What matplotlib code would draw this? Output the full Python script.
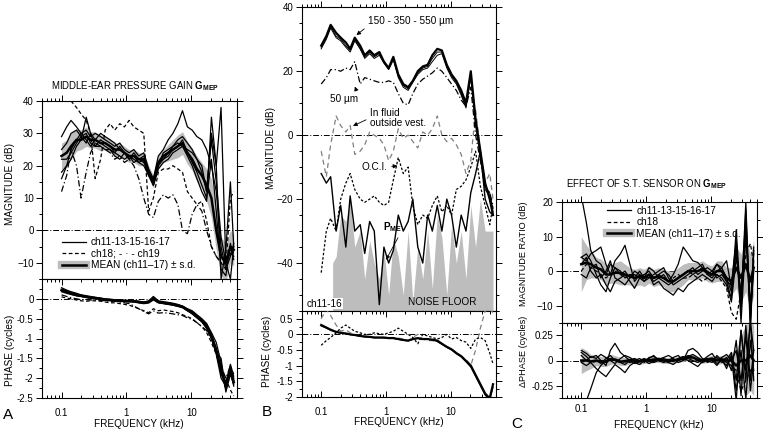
import numpy as np
import matplotlib
matplotlib.use("Agg")
import matplotlib.pyplot as plt
from matplotlib.lines import Line2D
from matplotlib.ticker import LogLocator, NullFormatter, MultipleLocator, FixedLocator, FixedFormatter

plt.rcParams['font.family'] = ['Liberation Sans', 'DejaVu Sans']
plt.rcParams['mathtext.fontset'] = 'custom'
plt.rcParams['mathtext.rm'] = 'Liberation Sans'
plt.rcParams['mathtext.bf'] = 'Liberation Sans:bold'

# ---------------- data ----------------
FREQ = [0.10, 0.12, 0.14, 0.17, 0.20, 0.24, 0.28, 0.33, 0.40, 0.47, 0.56, 0.66, 0.79, 0.93,
        1.1, 1.3, 1.55, 1.85, 2.2, 2.6, 3.1, 3.7, 4.4, 5.2, 6.2, 7.3, 8.7, 10.3, 12.2, 14.5,
        17.2, 20.4, 24.2, 28.7, 34.0, 40.0, 45.0]

# Panel A magnitude (dB)
A_MEAN = [23, 24, 26, 28, 28, 29, 28, 28, 27, 27, 26, 25, 25, 24, 23, 23, 22, 22, 18, 15,
          21, 23, 24, 25, 26, 27, 24, 22, 19, 17, 14, 10, 0, -8, -10, -5, -6]
A_SD = [4, 4, 4, 3.5, 3, 3, 2.5, 2.5, 2.5, 2, 2, 2, 2, 2, 2, 2, 2, 2, 2, 2, 2, 2, 2.5, 3,
        3.5, 3.5, 3.5, 3.5, 4, 4, 5, 6, 6, 6, 6, 5, 5]
A_CH11 = [29, 32, 34, 32, 30, 31, 29, 30, 29, 28, 27, 26, 27, 25, 24, 25, 23, 24, 19, 16,
          23, 25, 28, 30, 33, 37, 32, 31, 29, 28, 25, 20, 12, -5, -12, -8, -4]
A_CH13 = [18, 20, 22, 26, 28, 35, 30, 26, 28, 27, 26, 24, 26, 24, 22, 24, 22, 23, 18, 14,
          20, 22, 24, 26, 27, 26, 25, 24, 22, 20, 12, 30, 20, 38, -10, -15, -5]
A_CH15 = [16, 20, 25, 28, 30, 28, 26, 28, 30, 29, 28, 27, 25, 24, 22, 23, 21, 22, 17, 14,
          20, 24, 25, 26, 28, 29, 27, 25, 22, 18, 12, 28, 15, -2, -10, -7, -8]
A_CH16 = [22, 22, 24, 27, 29, 27, 30, 28, 27, 26, 25, 24, 23, 22, 23, 22, 21, 20, 17, 15,
          21, 22, 23, 25, 26, 28, 24, 21, 18, 14, 10, 22, 6, -12, -14, -4, -9]
A_CH17 = [25, 27, 30, 31, 29, 30, 27, 26, 26, 25, 25, 23, 22, 24, 23, 21, 22, 21, 18, 14,
          19, 21, 22, 24, 25, 26, 23, 20, 16, 12, 9, 35, 20, -15, -6, 15, -5]
A_CH18 = [45, 43, 40, 38, 36, 34, 30, 16, 22, 31, 33, 31, 33, 32, 34, 32, 31, 30, 6, 10,
          18, 19, 19, 20, 19, 18, 12, 10, 8, 9, 3, -5, -8, -10, -12, 10, 12]
A_CH19 = [12, 17, 25, 20, 10, 18, 24, 27, 26, 25, 24, 22, 23, 21, 22, 20, 16, 10, 5, 4,
          9, 11, 10, 11, 8, 0, -1, 5, 8, 6, 0, -5, -8, -10, -9, -6, -7]

# Panel A phase (cycles)
PA_MEAN = [0.22, 0.18, 0.14, 0.10, 0.08, 0.05, 0.03, 0.02, 0.0, -0.02, -0.03, -0.04, -0.05,
           -0.05, -0.06, -0.06, -0.08, -0.10, -0.08, 0.0, -0.08, -0.10, -0.12, -0.14, -0.17,
           -0.20, -0.28, -0.35, -0.45, -0.55, -0.70, -0.95, -1.30, -1.80, -2.20, -1.80, -2.10]
PA_SD = [0.05, 0.05, 0.04, 0.04, 0.03, 0.03, 0.03, 0.03, 0.03, 0.03, 0.03, 0.03, 0.03, 0.03,
         0.03, 0.03, 0.03, 0.03, 0.03, 0.04, 0.03, 0.03, 0.03, 0.03, 0.03, 0.04, 0.04, 0.05,
         0.05, 0.06, 0.07, 0.08, 0.12, 0.2, 0.15, 0.12, 0.12]
PA_CH11 = [0.28, 0.22, 0.18, 0.14, 0.10, 0.08, 0.06, 0.04, 0.02, 0.0, -0.01, -0.02, -0.03,
           -0.04, -0.04, -0.05, -0.06, -0.08, -0.05, 0.06, -0.05, -0.07, -0.09, -0.11, -0.14,
           -0.18, -0.25, -0.30, -0.40, -0.50, -0.62, -0.85, -1.10, -1.60, -2.30, -1.70, -2.0]
PA_CH13 = [0.20, 0.16, 0.12, 0.08, 0.06, 0.04, 0.02, 0.0, -0.02, -0.03, -0.04, -0.05, -0.06,
           -0.06, -0.07, -0.08, -0.10, -0.12, -0.10, -0.02, -0.10, -0.12, -0.14, -0.16, -0.19,
           -0.22, -0.30, -0.38, -0.48, -0.58, -0.75, -1.0, -1.35, -1.50, -2.35, -1.90, -2.15]
PA_CH15 = [0.24, 0.20, 0.16, 0.12, 0.09, 0.06, 0.04, 0.03, 0.01, -0.01, -0.02, -0.03, -0.04,
           -0.05, -0.05, -0.06, -0.07, -0.09, -0.07, 0.03, -0.07, -0.09, -0.11, -0.13, -0.16,
           -0.19, -0.26, -0.33, -0.43, -0.52, -0.66, -0.90, -1.25, -1.90, -2.10, -1.65, -1.95]
PA_CH16 = [0.18, 0.14, 0.11, 0.08, 0.06, 0.04, 0.02, 0.01, -0.01, -0.02, -0.03, -0.04, -0.05,
           -0.05, -0.06, -0.07, -0.09, -0.11, -0.09, -0.01, -0.09, -0.11, -0.13, -0.15, -0.18,
           -0.21, -0.29, -0.36, -0.47, -0.57, -0.72, -0.98, -1.40, -2.0, -2.20, -1.85, -2.20]
PA_CH17 = [0.22, 0.19, 0.15, 0.11, 0.08, 0.05, 0.03, 0.02, 0.0, -0.02, -0.03, -0.04, -0.05,
           -0.05, -0.06, -0.06, -0.08, -0.10, -0.08, 0.01, -0.08, -0.10, -0.12, -0.14, -0.17,
           -0.20, -0.28, -0.35, -0.45, -0.55, -0.70, -0.95, -1.30, -1.70, -2.25, -1.75, -2.05]
PA_CH18 = [0.05, 0.02, 0.0, -0.03, -0.05, -0.06, -0.05, -0.05, -0.06, -0.08, -0.10, -0.10,
           -0.12, -0.14, -0.16, -0.20, -0.25, -0.30, -0.35, -0.25, -0.30, -0.28, -0.30, -0.32,
           -0.35, -0.40, -0.45, -0.50, -0.60, -0.70, -0.85, -1.10, -1.40, -1.80, -2.0, -2.30, -2.45]
PA_CH19 = [0.10, 0.06, 0.03, 0.0, -0.02, -0.02, -0.03, -0.03, -0.04, -0.05, -0.06, -0.06,
           -0.08, -0.10, -0.12, -0.18, -0.25, -0.32, -0.38, -0.30, -0.36, -0.35, -0.36, -0.38,
           -0.40, -0.42, -0.48, -0.52, -0.60, -0.70, -0.80, -1.0, -1.30, -1.70, -2.0, -1.70, -1.90]

# Panel B magnitude (dB)
B_UM150 = [28, 31, 34.5, 32, 30.5, 29, 27, 30.5, 28, 25, 26.5, 25, 26, 23, 21, 24.5, 19, 16,
           15, 17, 20, 21.5, 22, 25, 27, 26.5, 22, 19, 17, 14, 10, 20, 5, -5, -15, -20, -25]
B_UM350 = [27.5, 30.5, 34, 31, 30, 28, 26.5, 30, 27, 24.5, 26, 24.5, 25.5, 23, 21, 24, 18.5,
           15.5, 14.5, 17, 19.5, 21, 21.5, 24, 26, 26, 21.5, 18.5, 16.5, 13, 9, 19, 4, -6, -16, -18, -24]
B_UM550 = [27, 30, 33.5, 30.5, 29.5, 27.5, 26, 29.5, 27, 24, 25.5, 24, 25, 22.5, 20.5, 23.5, 18,
           15, 14, 16.5, 19, 20.5, 21, 23, 25, 25.5, 21, 18, 16, 12.5, 8.5, 18, 3, -7, -17, -19, -23]
B_UM50 = [16, 18, 20.5, 20.5, 20, 21, 20.5, 23, 16, 18, 17.5, 17, 16.5, 16.5, 17, 16.5, 13, 10,
          9.5, 13, 16, 17.5, 18.5, 19.5, 21, 20, 18, 16, 14, 11, 9, 15, 0, -8, -16, -18, -22]
B_FLUID = [-5, -13, -3, 6, 3, 1, 3, -6, -5, -3, 1, 0, -1, -3, -8, -5, 2, -1, 0, -2, -4, 1, 0,
           2, 6, 0, -2, -1, -3, -6, -12, -8, 8, -5, -15, -12, -20]
B_OCI = [-43, -30, -26, -30, -20, -15, -12, -17, -20, -21, -20, -19, -21, -22, -21, -14, -7,
         -12, -10, -22, -28, -25, -26, -22, -19, -24, -22, -25, -17, -16, -14, -10, -5, -16,
         -22, -28, -22]
B_PME = [-12, -15, -13, -30, -22, -35, -19, -30, -28, -37, -27, -30, -53, -35, -40, -36, -25,
         -30, -27, -20, -35, -40, -25, -30, -22, -30, -20, -25, -35, -25, -30, -18, -12, -5,
         -20, -24, -25]
NOISE_FREQ = [0.15, 0.17, 0.20, 0.24, 0.28, 0.33, 0.40, 0.47, 0.56, 0.66, 0.79, 0.93, 1.1, 1.3,
              1.55, 1.85, 2.2, 2.6, 3.1, 3.7, 4.4, 5.2, 6.2, 7.3, 8.7, 10.3, 12.2, 14.5, 17.2,
              20.4, 24.2, 28.7, 34.0, 40.0, 45.0]
NOISE_DB = [-40, -38, -25, -27, -20, -35, -30, -45, -33, -40, -45, -36, -50, -32, -38, -50, -30,
            -52, -35, -45, -30, -48, -25, -32, -50, -28, -40, -30, -45, -22, -35, -20, -30, -30, -30]

# Panel B phase (cycles)
PB_MAIN = [0.30, 0.22, 0.15, 0.08, 0.05, 0.03, 0.0, -0.02, -0.05, -0.07, -0.08, -0.10, -0.10,
           -0.10, -0.12, -0.12, -0.15, -0.18, -0.20, -0.15, -0.12, -0.15, -0.15, -0.17, -0.20,
           -0.30, -0.40, -0.48, -0.60, -0.70, -0.85, -1.0, -1.30, -1.60, -1.90, -2.05, -1.60]
PB_THIN = [0.27, 0.20, 0.13, 0.07, 0.04, 0.02, -0.01, -0.03, -0.06, -0.08, -0.09, -0.11, -0.11,
           -0.11, -0.13, -0.13, -0.16, -0.19, -0.21, -0.16, -0.13, -0.16, -0.16, -0.18, -0.22,
           -0.32, -0.42, -0.50, -0.62, -0.72, -0.88, -1.05, -1.35, -1.65, -1.95, -2.1, -1.7]
PB_OCI = [-0.35, -0.20, -0.10, 0.05, 0.20, 0.30, 0.20, 0.10, 0.05, 0.0, 0.0, 0.05, 0.02, 0.0,
          0.05, 0.10, 0.20, 0.10, 0.0, -0.10, -0.30, 0.0, -0.05, -0.10, -0.15, -0.10, 0.0,
          -0.15, -0.10, -0.20, -0.25, -0.45, -0.15, -0.10, -0.20, -0.60, -0.95]
PB_FLUID = [0.50, 0.80, 0.60, 0.30, 0.10, 0.15, 0.05, 0.0, -0.05, -0.05, -0.08, -0.10, -0.10,
            -0.12, -0.10, -0.10, -0.12, -0.15, -0.20, -0.10, 0.0, -0.15, -0.20, -0.20, -0.25,
            -0.30, -0.40, -0.45, -0.60, -0.70, -0.80, -1.0, -0.50, 0.20, 0.75, 0.80, 0.70]

# Panel C magnitude ratio (dB)
C_MEAN = [2, 2.5, 2, 1, 0.5, -1, -1, -0.5, -0.5, -1, -1.5, -2, -1.5, -2, -1, -2, -1.5, -2, -3,
          -3, -2, -1, 0, 0, 0, 0.5, -0.5, -1, 0, 0, -2, -3, 1, -2, 2, -3, 1]
C_SD = [8, 5, 4, 3, 3, 3, 2.5, 3, 3.5, 3, 2.5, 2.5, 2.5, 2.5, 2.5, 2.5, 2.5, 2.5, 3, 3, 3,
        3, 2.5, 2.5, 2.5, 2.5, 2.5, 2.5, 3, 3, 3, 4, 6, 7, 8, 8, 8]
C_CH11 = [22, 14, 6, 3, 2, -1, 2, 1, -1, 0, -2, -1, -2, -1, 0, -2, -1, 0, -1, -3, -2, -1, 0,
          1, -1, 0, 1, 0, 2, 0, -3, -8, 12, -10, 20, -15, 5]
C_CH13 = [4, 3, 5, 6, 7, 2, -1, 3, 5, 7.5, 2, -3, -1, -2, 1, 0, -2, -1, -3, -1, 2, 7, 5, 3,
          2.5, 1, 0, -1, 2, 1, 3, -5, 8, -12, 18, -18, 7]
C_CH15 = [2, 4, 0, -2, -1, -4, -6, -3, -2, -1, -3, -5, -2, -3, -1, -4, -3, -5, -6, -7, -5,
          -6, -4, -3, -2, -1, -2, -3, -1, -2, -4, -9, 4, -6, 12, -14, 3]
C_CH16 = [-1, -2, 1, 2, -2, 0, 3, -2, -3, -4, -2, 0, -1, -3, -2, -1, 0, 1, -2, -4, -3, -2,
          -1, 0, 1, 2, -1, -2, 0, 1, -2, -6, 6, -8, 15, -12, 0]
C_CH17 = [4, 5, 3, -1, -4, -6, -2, 1, 0, -2, -1, -2, 0, -2, -1, -3, -2, -3, -4, -3, -2, -1,
          0, -1, 0, 1, -1, 0, -2, -1, -3, -4, 9, -15, 10, -10, 6]
C_CH18 = [0, 2, 1, 0, -1, -2, -1, 0, -1, -2, -1, -1, -2, -1, -2, -2, -1, -2, -3, -2, -1, -2,
          -2, -1, -2, -3, -2, -1, -1, -3, -5, -12, -14, -6, 5, 8, 2]

# Panel C phase difference (cycles)
PC_MEAN = [0.0, 0.0, -0.01, 0.0, -0.01, -0.01, 0.01, 0.01, -0.01, -0.01, 0.0, 0.0, -0.01,
           0.0, 0.0, 0.01, 0.01, 0.0, 0.0, 0.0, 0.01, 0.02, 0.03, 0.03, 0.01, 0.0, 0.01, 0.02,
           0.0, 0.01, 0.0, 0.0, -0.05, 0.0, 0.0, 0.05, 0.0]
PC_SD = [0.13, 0.10, 0.07, 0.05, 0.05, 0.05, 0.05, 0.04, 0.04, 0.04, 0.03, 0.03, 0.03, 0.03,
         0.03, 0.03, 0.03, 0.03, 0.03, 0.03, 0.03, 0.03, 0.03, 0.03, 0.03, 0.03, 0.03, 0.03,
         0.04, 0.04, 0.05, 0.08, 0.15, 0.25, 0.35, 0.35, 0.35]
PC_CH11 = [-0.60, -0.40, -0.28, -0.12, -0.05, 0.0, 0.02, 0.0, -0.02, 0.0, 0.01, -0.01, 0.0,
           0.02, -0.01, 0.0, 0.02, 0.0, -0.02, 0.01, 0.0, 0.02, 0.05, 0.03, 0.0, -0.02, 0.0,
           0.02, -0.03, 0.0, -0.05, 0.05, -0.40, 0.30, -0.10, 0.40, -0.20]
PC_CH13 = [0.10, 0.07, 0.03, 0.05, 0.0, -0.05, 0.10, 0.17, 0.08, 0.04, 0.0, -0.03, -0.01,
           0.0, 0.02, 0.05, 0.0, -0.02, 0.0, 0.03, 0.05, 0.0, 0.10, 0.12, 0.08, 0.02, 0.0,
           -0.02, 0.05, 0.0, 0.03, -0.10, 0.20, -0.35, 0.35, -0.20, 0.10]
PC_CH15 = [-0.02, -0.05, -0.02, -0.08, -0.12, -0.16, -0.10, -0.04, -0.08, -0.12, -0.05,
           -0.02, -0.04, 0.0, -0.03, -0.01, 0.02, 0.0, -0.02, -0.04, 0.0, 0.03, 0.0, -0.03,
           -0.06, -0.01, 0.02, 0.0, -0.05, 0.02, -0.08, 0.05, -0.30, 0.10, -0.38, 0.20, -0.10]
PC_CH16 = [0.05, 0.0, 0.04, 0.02, 0.06, 0.03, 0.0, -0.03, 0.02, 0.05, 0.03, 0.0, 0.02, -0.02,
           0.03, 0.04, 0.01, 0.03, 0.05, 0.02, -0.02, 0.0, 0.04, 0.06, 0.03, 0.0, 0.04, 0.07,
           0.0, 0.03, 0.06, 0.0, 0.10, -0.20, 0.25, -0.30, 0.0]
PC_CH17 = [0.08, 0.04, -0.01, 0.0, -0.03, 0.02, 0.05, 0.0, -0.02, -0.04, 0.0, 0.02, -0.01,
           0.01, 0.0, -0.02, 0.0, 0.02, 0.0, -0.01, 0.02, 0.04, 0.02, 0.0, -0.02, 0.01, -0.01,
           0.0, 0.03, -0.02, 0.0, 0.08, -0.20, 0.30, -0.20, 0.38, 0.10]
PC_CH18 = [-0.02, 0.0, -0.02, -0.01, 0.0, -0.02, 0.0, 0.01, -0.01, 0.0, -0.02, -0.01, 0.0,
           -0.01, 0.01, 0.0, -0.01, 0.0, 0.01, -0.01, 0.0, 0.01, 0.0, -0.01, 0.0, 0.01, -0.02,
           0.0, -0.01, 0.01, -0.02, -0.05, -0.10, -0.30, -0.20, -0.10, -0.05]

# ---------------- layout ----------------
W, H = 763, 430
fig = plt.figure(figsize=(W / 100, H / 100), dpi=100)

def rect(l, r, t, b):
    return [l / W, 1 - b / H, (r - l) / W, (b - t) / H]

TFS = 7      # tick font size
LFS = 7.2    # label font size
GREY = '#bdbdbd'

def style_axes(ax, is_mag, ylim, major, minor, ylabels=None, xpad=6):
    ax.set_xscale('log')
    ax.set_xlim(0.05, 50)
    ax.set_ylim(*ylim)
    ax.yaxis.set_major_locator(FixedLocator(major))
    if ylabels is not None:
        ax.yaxis.set_major_formatter(FixedFormatter(ylabels))
    ax.yaxis.set_minor_locator(MultipleLocator(minor))
    ax.xaxis.set_major_locator(FixedLocator([0.1, 1, 10]))
    ax.xaxis.set_minor_locator(LogLocator(base=10, subs=np.arange(2, 10), numticks=20))
    ax.xaxis.set_minor_formatter(NullFormatter())
    ax.tick_params(axis='y', which='both', direction='out', left=True, right=True,
                   labelsize=TFS, width=0.7, pad=2)
    ax.tick_params(axis='y', which='major', length=4)
    ax.tick_params(axis='y', which='minor', length=2.5)
    if is_mag:
        ax.tick_params(axis='x', which='both', direction='out', top=True, bottom=False,
                       labelbottom=False, labeltop=False, width=0.7)
    else:
        ax.tick_params(axis='x', which='both', direction='in', top=True, bottom=True,
                       labelbottom=True, labelsize=TFS, width=0.7, pad=xpad)
        ax.xaxis.set_major_formatter(FixedFormatter(['0.1', '1', '10']))
    ax.tick_params(axis='x', which='major', length=4.5)
    ax.tick_params(axis='x', which='minor', length=2.5)
    for s in ax.spines.values():
        s.set_linewidth(0.8)
    ax.axhline(0, color='black', lw=0.7, ls=(0, (6, 2, 1, 2)), zorder=1)

# ================= Panel A =================
axA = fig.add_axes(rect(42, 236.7, 101, 279))
axAp = fig.add_axes(rect(42, 236.7, 279, 398))
style_axes(axA, True, (-15, 40), [-10, 0, 10, 20, 30, 40], 5)
style_axes(axAp, False, (-2.5, 0.5), [0, -0.5, -1, -1.5, -2, -2.5], 0.25,
           ['0', '-0.5', '-1', '-1.5', '-2', '-2.5'], xpad=7.5)

A_mean = np.array(A_MEAN); A_sd = np.array(A_SD)
axA.fill_between(FREQ, A_mean - A_sd, A_mean + A_sd, color=GREY, lw=0, zorder=2)
for ch in (A_CH11, A_CH13, A_CH15, A_CH16, A_CH17):
    axA.plot(FREQ, ch, color='black', lw=0.9, zorder=3)
axA.plot(FREQ, A_CH18, color='black', lw=0.9, ls=(0, (3, 2)), zorder=3)
axA.plot(FREQ, A_CH19, color='black', lw=0.9, ls=(0, (5, 2, 1, 2)), zorder=3)
axA.plot(FREQ, A_MEAN, color='black', lw=1.8, zorder=4)

pa_mean = np.array(PA_MEAN); pa_sd = np.array(PA_SD)
axAp.fill_between(FREQ, pa_mean - pa_sd, pa_mean + pa_sd, color=GREY, lw=0, zorder=2)
for ch in (PA_CH11, PA_CH13, PA_CH15, PA_CH16, PA_CH17):
    axAp.plot(FREQ, ch, color='black', lw=0.9, zorder=3)
axAp.plot(FREQ, PA_CH18, color='black', lw=0.9, ls=(0, (3, 2)), zorder=3)
axAp.plot(FREQ, PA_CH19, color='black', lw=0.9, ls=(0, (5, 2, 1, 2)), zorder=3)
axAp.plot(FREQ, PA_MEAN, color='black', lw=1.8, zorder=4)

hA = [Line2D([], [], color='black', lw=0.9),
      Line2D([], [], color='black', lw=0.9, ls=(0, (3, 2))),
      (Line2D([], [], color=GREY, lw=6), Line2D([], [], color='black', lw=1.8))]
axA.legend(hA, ['ch11-13-15-16-17', 'ch18; - · - ch19', 'MEAN (ch11\u201317) \u00b1 s.d.'],
           loc='lower left', bbox_to_anchor=(0.07, 0.015), frameon=False, fontsize=7.3,
           handlelength=2.4, labelspacing=0.15, handletextpad=0.5, borderaxespad=0.2)

fig.text(135 / W, 1 - 86 / H, 'MIDDLE-EAR PRESSURE GAIN $\\mathbf{G_{MEP}}$', ha='center',
         va='center', fontsize=6.9)
fig.text(10 / W, 1 - 184 / H, 'MAGNITUDE (dB)', rotation=90, ha='center', va='center', fontsize=LFS)
fig.text(10 / W, 1 - 350 / H, 'PHASE (cycles)', rotation=90, ha='center', va='center', fontsize=LFS)
fig.text(139 / W, 1 - 424 / H, 'FREQUENCY (kHz)', ha='center', va='center', fontsize=LFS)
fig.text(3 / W, 1 - 415 / H, 'A', ha='left', va='center', fontsize=11)

# ================= Panel B =================
axB = fig.add_axes(rect(301.7, 496, 7.3, 311))
axBp = fig.add_axes(rect(301.7, 496, 311, 396.7))
style_axes(axB, True, (-55, 40), [-40, -20, 0, 20, 40], 5)
style_axes(axBp, False, (-2, 0.75), [0.5, 0, -0.5, -1, -1.5, -2], 0.25,
           ['0.5', '0', '-0.5', '-1', '-1.5', '-2'], xpad=7.5)

axB.fill_between(NOISE_FREQ, NOISE_DB, -55, color=GREY, lw=0, zorder=1)
axB.plot(FREQ, B_PME, color='black', lw=1.0, zorder=3)
axB.plot(FREQ, B_OCI, color='black', lw=0.9, ls=(0, (2, 1.5)), zorder=3)
axB.plot(FREQ, B_FLUID, color='#808080', lw=0.9, ls=(0, (4, 3)), zorder=3)
axB.plot(FREQ, B_UM50, color='black', lw=0.9, ls=(0, (5, 2, 1, 2)), zorder=3)
axB.plot(FREQ, B_UM550, color='black', lw=0.7, zorder=3)
axB.plot(FREQ, B_UM350, color='black', lw=0.7, zorder=3)
axB.plot(FREQ, B_UM150, color='black', lw=1.6, zorder=4)

axBp.plot(FREQ, PB_FLUID, color='#808080', lw=0.9, ls=(0, (4, 3)), zorder=3)
axBp.plot(FREQ, PB_OCI, color='black', lw=0.9, ls=(0, (2, 1.5)), zorder=3)
axBp.plot(FREQ, PB_THIN, color='black', lw=0.8, zorder=3)
axBp.plot(FREQ, PB_MAIN, color='black', lw=1.6, zorder=4)

def arr(rp):
    return dict(arrowstyle='-|>', color='black', lw=0.6, mutation_scale=6,
                shrinkA=1, shrinkB=0, relpos=rp)

tfs = 7.2
axB.annotate('150 - 350 - 550 \u00b5m', xy=(0.35, 31.3), xytext=(0.53, 35.8), fontsize=tfs,
             ha='left', va='center', arrowprops=arr((0, 0)))
axB.annotate('50 \u00b5m', xy=(0.33, 15.2), xytext=(0.135, 11.3), fontsize=tfs,
             ha='left', va='center', arrowprops=arr((1, 1)))
axB.annotate('In fluid\noutside vest.', xy=(0.31, 2.9), xytext=(0.57, 5.4), fontsize=tfs,
             ha='left', va='center', linespacing=1.0, arrowprops=arr((0, 0.5)))
axB.annotate('O.C.I.', xy=(1.5, -9.6), xytext=(0.42, -9.9), fontsize=tfs,
             ha='left', va='center', arrowprops=arr((1, 0.5)))
axB.annotate('P$_{\\mathbf{ME}}$', xy=(1.0, -39), xytext=(0.9, -28.7), fontsize=tfs,
             ha='left', va='center', fontweight='bold', arrowprops=arr((0.9, 0)))
axB.text(0.059, -52.7, 'ch11-16', fontsize=tfs, ha='left', va='center',
         bbox=dict(facecolor='white', edgecolor='none', pad=0.5), zorder=6)
axB.text(2.2, -52.2, 'NOISE FLOOR', fontsize=tfs, ha='left', va='center', zorder=6)

fig.text(271 / W, 1 - 148 / H, 'MAGNITUDE (dB)', rotation=90, ha='center', va='center', fontsize=LFS)
fig.text(267 / W, 1 - 351 / H, 'PHASE (cycles)', rotation=90, ha='center', va='center', fontsize=LFS)
fig.text(399 / W, 1 - 422 / H, 'FREQUENCY (kHz)', ha='center', va='center', fontsize=LFS)
fig.text(262 / W, 1 - 412 / H, 'B', ha='left', va='center', fontsize=11)

# ================= Panel C =================
axC = fig.add_axes(rect(561.7, 756.7, 202.3, 322.7))
axCp = fig.add_axes(rect(561.7, 756.7, 322.7, 398.3))
style_axes(axC, True, (-15, 20), [-10, 0, 10, 20], 5)
style_axes(axCp, False, (-0.375, 0.375), [-0.25, 0, 0.25], 0.125, ['-0.25', '0', '0.25'],
           xpad=4)

c_mean = np.array(C_MEAN); c_sd = np.array(C_SD)
axC.fill_between(FREQ, c_mean - c_sd, c_mean + c_sd, color=GREY, lw=0, zorder=2)
for ch in (C_CH11, C_CH13, C_CH15, C_CH16, C_CH17):
    axC.plot(FREQ, ch, color='black', lw=0.9, zorder=3)
axC.plot(FREQ, C_CH18, color='black', lw=0.9, ls=(0, (3, 2)), zorder=3)
axC.plot(FREQ, C_MEAN, color='black', lw=1.8, zorder=4)

pc_mean = np.array(PC_MEAN); pc_sd = np.array(PC_SD)
axCp.fill_between(FREQ, pc_mean - pc_sd, pc_mean + pc_sd, color=GREY, lw=0, zorder=2)
for ch in (PC_CH11, PC_CH13, PC_CH15, PC_CH16, PC_CH17):
    axCp.plot(FREQ, ch, color='black', lw=0.9, zorder=3)
axCp.plot(FREQ, PC_CH18, color='black', lw=0.9, ls=(0, (3, 2)), zorder=3)
axCp.plot(FREQ, PC_MEAN, color='black', lw=1.8, zorder=4)

hC = [Line2D([], [], color='black', lw=0.9),
      Line2D([], [], color='black', lw=0.9, ls=(0, (3, 2))),
      (Line2D([], [], color=GREY, lw=6), Line2D([], [], color='black', lw=1.8))]
axC.legend(hC, ['ch11-13-15-16-17', 'ch18', 'MEAN (ch11\u201317) \u00b1 s.d.'],
           loc='upper left', bbox_to_anchor=(0.2, 1.02), frameon=False, fontsize=7.3,
           handlelength=2.4, labelspacing=0.15, handletextpad=0.5, borderaxespad=0.2)

fig.text(646 / W, 1 - 184 / H, 'EFFECT OF S.T. SENSOR ON $\\mathbf{G_{MEP}}$', ha='center',
         va='center', fontsize=6.9)
fig.text(524 / W, 1 - 254 / H, 'MAGNITUDE RATIO (dB)', rotation=90, ha='center', va='center',
         fontsize=6.6)
fig.text(524 / W, 1 - 351 / H, '\u0394PHASE (cycles)', rotation=90, ha='center', va='center',
         fontsize=6.6)
fig.text(659 / W, 1 - 425 / H, 'FREQUENCY (kHz)', ha='center', va='center', fontsize=LFS)
fig.text(511 / W, 1 - 424 / H, 'C', ha='left', va='center', fontsize=11)

fig.savefig('out.png', dpi=100)
